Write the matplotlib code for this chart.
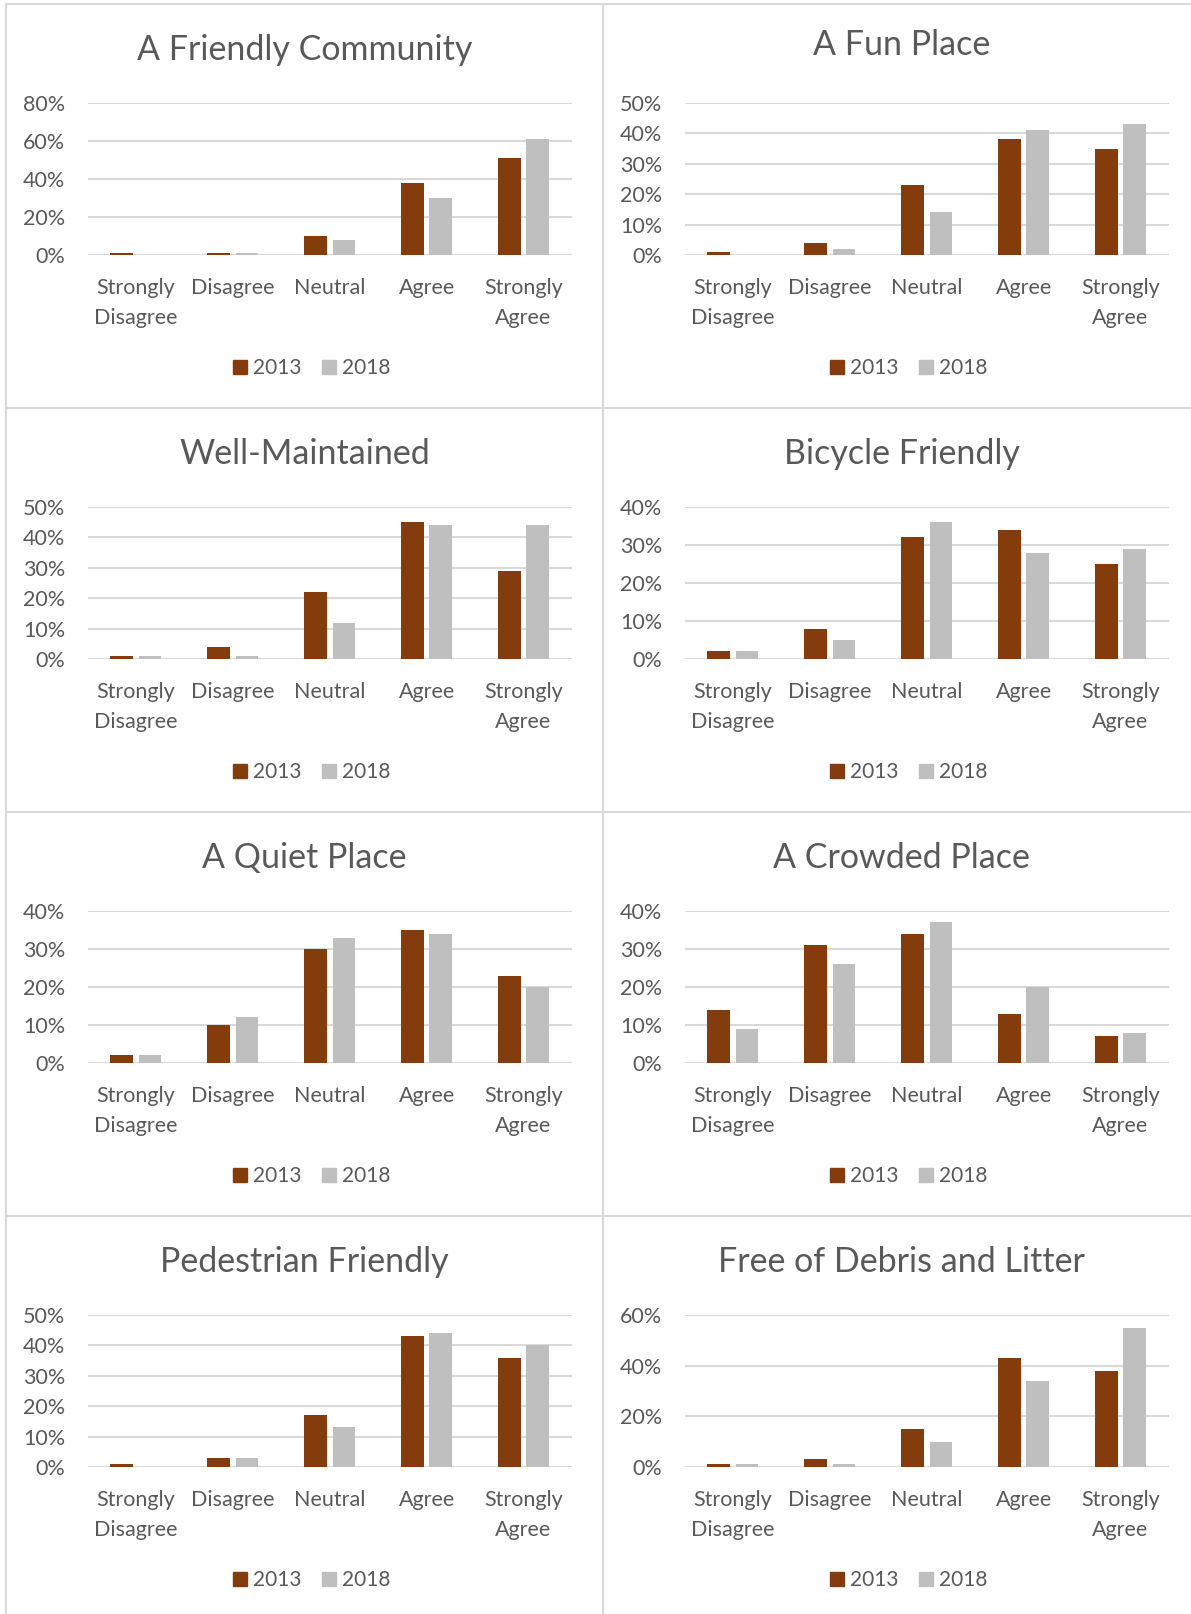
import numpy as np
import matplotlib
matplotlib.use("Agg")
import matplotlib.pyplot as plt
from matplotlib.lines import Line2D
from matplotlib.patches import Patch

plt.rcParams['font.family'] = ['Lato', 'DejaVu Sans']

# data (share of respondents, %)
categories = ["Strongly\nDisagree", "Disagree", "Neutral", "Agree", "Strongly\nAgree"]
years = ["2013", "2018"]
titles = ["A Friendly Community", "A Fun Place", "Well-Maintained", "Bicycle Friendly",
          "A Quiet Place", "A Crowded Place", "Pedestrian Friendly", "Free of Debris and Litter"]

friendly_2013 = [1, 1, 10, 38, 51]
friendly_2018 = [0, 1, 8, 30, 61]
fun_2013 = [1, 4, 23, 38, 35]
fun_2018 = [0, 2, 14, 41, 43]
maintained_2013 = [1, 4, 22, 45, 29]
maintained_2018 = [1, 1, 12, 44, 44]
bicycle_2013 = [2, 8, 32, 34, 25]
bicycle_2018 = [2, 5, 36, 28, 29]
quiet_2013 = [2, 10, 30, 35, 23]
quiet_2018 = [2, 12, 33, 34, 20]
crowded_2013 = [14, 31, 34, 13, 7]
crowded_2018 = [9, 26, 37, 20, 8]
pedestrian_2013 = [1, 3, 17, 43, 36]
pedestrian_2018 = [0, 3, 13, 44, 40]
debris_2013 = [1, 3, 15, 43, 38]
debris_2018 = [1, 1, 10, 34, 55]

y_max = [80, 50, 50, 40, 40, 40, 50, 60]
y_step = [20, 10, 10, 10, 10, 10, 10, 20]

series = [(friendly_2013, friendly_2018), (fun_2013, fun_2018),
          (maintained_2013, maintained_2018), (bicycle_2013, bicycle_2018),
          (quiet_2013, quiet_2018), (crowded_2013, crowded_2018),
          (pedestrian_2013, pedestrian_2018), (debris_2013, debris_2018)]

C13 = "#843C0C"
C18 = "#BFBFBF"
TXT = "#595959"
GRID = "#D9D9D9"

W, H = 1191, 1614
fig = plt.figure(figsize=(W / 100, H / 100), dpi=100)
fig.patch.set_facecolor("white")

def fx(px):
    return px / W

def fy(py):
    return 1 - py / H

# panel frames
for y in [4, 408, 812, 1216]:
    fig.add_artist(Line2D([fx(6), 1], [fy(y), fy(y)], color=GRID, lw=1.5))
for x in [6, 603]:
    fig.add_artist(Line2D([fx(x), fx(x)], [fy(4), 0], color=GRID, lw=1.5))

x = np.arange(len(categories))
bw = 0.234
off = 0.146

for i, (title, (s13, s18)) in enumerate(zip(titles, series)):
    r, c = divmod(i, 2)
    left = 6 + 597 * c
    top = 4 + 404 * r
    ax = fig.add_axes([fx(left + 81.5), fy(top + 251), 484.5 / W, 152 / H])
    ax.bar(x - off, np.array(s13) / 100, bw, color=C13, zorder=3)
    ax.bar(x + off, np.array(s18) / 100, bw, color=C18, zorder=3)
    ax.set_xlim(-0.5, 4.5)
    ax.set_ylim(0, y_max[i] / 100)
    ax.set_yticks(np.arange(0, y_max[i] + 1, y_step[i]) / 100)
    ax.set_yticklabels([f"{v}%" for v in range(0, y_max[i] + 1, y_step[i])])
    ax.set_xticks(x)
    ax.set_xticklabels(categories, linespacing=1.6)
    for sp in ax.spines.values():
        sp.set_visible(False)
    ax.grid(axis="y", color=GRID, lw=1.5, zorder=0)
    ax.tick_params(axis="both", length=0, colors=TXT, labelsize=15.5)
    ax.tick_params(axis="y", pad=16)
    ax.tick_params(axis="x", pad=16.5)
    ty = top + (41 if i == 1 else 46)
    fig.text(fx(left + 298.5), fy(ty), title, ha="center", va="center",
             fontsize=24.5, color=TXT)
    handles = [Patch(color=C13, label=years[0]), Patch(color=C18, label=years[1])]
    fig.legend(handles=handles, loc="center", ncol=2, frameon=False,
               bbox_to_anchor=(fx(left + 306), fy(top + 364)),
               fontsize=15, labelcolor=TXT, handlelength=0.65, handleheight=0.65,
               handletextpad=0.3, columnspacing=1.0)

fig.savefig("out.png", dpi=100)
